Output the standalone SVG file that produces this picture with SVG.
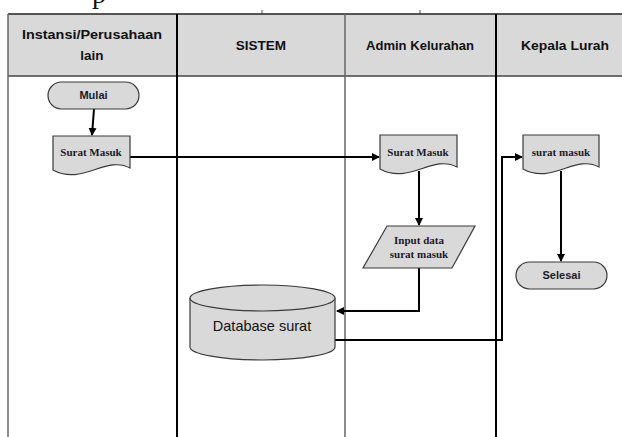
<svg xmlns="http://www.w3.org/2000/svg" width="622" height="437" viewBox="0 0 622 437">
<style>
.hdr{font-family:"Liberation Sans",Arial,sans-serif;font-weight:bold;font-size:13.5px;fill:#111;text-anchor:middle}
.sans{font-family:"Liberation Sans",Arial,sans-serif;font-weight:bold;font-size:11px;fill:#1a1a2a;text-anchor:middle}
.serif{font-family:"Liberation Serif","Times New Roman",serif;font-weight:bold;font-size:11px;fill:#1a1a2a;text-anchor:middle}
.db{font-family:"Liberation Sans",Arial,sans-serif;font-size:14.5px;fill:#111;text-anchor:middle}
.shape{fill:#d9d9d9;stroke:#3a3a3a;stroke-width:1.2}
.conn{fill:none;stroke:#000;stroke-width:2}
</style>
<defs>
<marker id="ah" markerWidth="8" markerHeight="8" refX="7" refY="4" orient="auto" markerUnits="userSpaceOnUse">
<path d="M0,0 L8,4 L0,8 Z" fill="#000"/>
</marker>
</defs>
<rect width="622" height="437" fill="#fff"/>
<text x="92" y="3" font-family="Liberation Serif,serif" font-size="28" fill="#111">p</text>
<line x1="262" y1="10" x2="262" y2="14" stroke="#555" stroke-width="1"/>
<line x1="420" y1="10" x2="420" y2="14" stroke="#555" stroke-width="1"/>
<g id="lanes">
<rect x="8" y="14" width="620" height="62" fill="#d9d9d9"/>
<line x1="8" y1="14" x2="622" y2="14" stroke="#222" stroke-width="1.5"/>
<line x1="8" y1="76" x2="622" y2="76" stroke="#444" stroke-width="1.5"/>
<line x1="8" y1="14" x2="8" y2="437" stroke="#666" stroke-width="1.5"/>
<line x1="177" y1="14" x2="177" y2="437" stroke="#000" stroke-width="2"/>
<line x1="345" y1="14" x2="345" y2="437" stroke="#666" stroke-width="1.5"/>
<line x1="496" y1="14" x2="496" y2="437" stroke="#000" stroke-width="2"/>
<text class="hdr" x="92" y="39" textLength="140" lengthAdjust="spacingAndGlyphs">Instansi/Perusahaan</text>
<text class="hdr" x="92" y="60">lain</text>
<text class="hdr" x="261" y="50">SISTEM</text>
<text class="hdr" x="420" y="50" textLength="108" lengthAdjust="spacingAndGlyphs">Admin Kelurahan</text>
<text class="hdr" x="565" y="50" textLength="88" lengthAdjust="spacingAndGlyphs">Kepala Lurah</text>
</g>
<g id="connectors">
<path class="conn" d="M94,109 L92,135" marker-end="url(#ah)"/>
<path class="conn" d="M130,157 H379" marker-end="url(#ah)"/>
<path class="conn" d="M419,171 V225" marker-end="url(#ah)"/>
<path class="conn" d="M419,268 V311 H337" marker-end="url(#ah)"/>
<path class="conn" d="M335,340 H502 V157 H522" marker-end="url(#ah)"/>
<path class="conn" d="M561,171 V261" marker-end="url(#ah)"/>
</g>
<g id="mulai">
<rect class="shape" x="48" y="82" width="91" height="27" rx="13.5"/>
<text class="sans" x="93.5" y="99">Mulai</text>
</g>
<g id="surat-masuk-1">
<path class="shape" d="M53,136 H130 V168 C106,155 82,186 53,170 Z"/>
<text class="serif" x="91" y="156">Surat Masuk</text>
</g>
<g id="surat-masuk-2">
<path class="shape" d="M380,135 H457 V167 C433,154 409,185 380,169 Z"/>
<text class="serif" x="418" y="156">Surat Masuk</text>
</g>
<g id="input-data">
<path class="shape" d="M387,226 H475 L452,268 H363 Z"/>
<text class="serif" x="419" y="244">Input data</text>
<text class="serif" x="419" y="258">surat masuk</text>
</g>
<g id="database">
<path class="shape" d="M190,298 V347 A72.5,13 0 0 0 335,347 V298"/>
<ellipse class="shape" cx="262.5" cy="298" rx="72.5" ry="13"/>
<text class="db" x="262" y="331">Database surat</text>
</g>
<g id="surat-masuk-3">
<path class="shape" d="M523,135 H599 V167 C575,154 552,185 523,169 Z"/>
<text class="serif" x="561" y="156">surat masuk</text>
</g>
<g id="selesai">
<rect class="shape" x="516" y="262" width="91" height="27" rx="13.5"/>
<text class="sans" x="561.5" y="279">Selesai</text>
</g>
</svg>
